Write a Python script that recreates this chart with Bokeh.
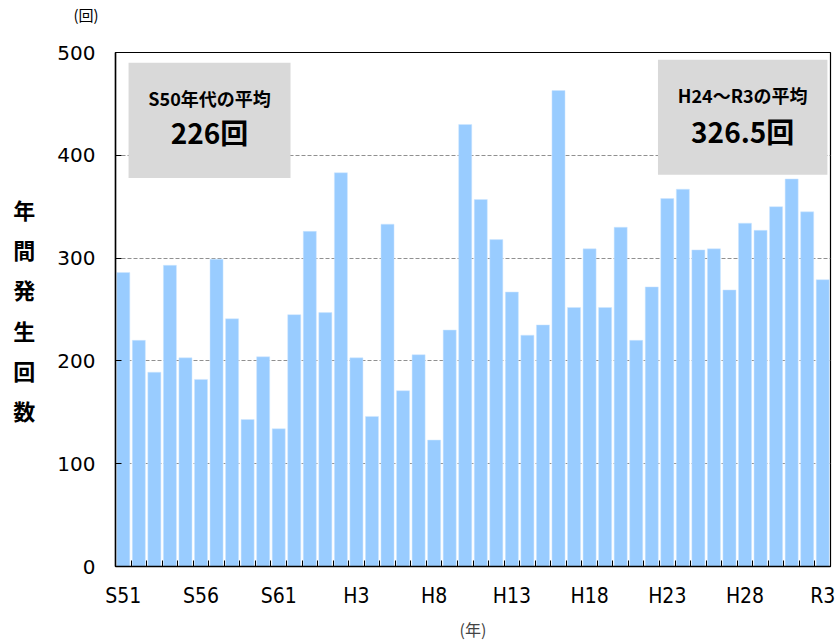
from bokeh.plotting import figure
from bokeh.models import FixedTicker, Label, BoxAnnotation, ColumnDataSource, Range1d, Title
from bokeh.embed import file_html
from bokeh.resources import INLINE

years = ["S51","S52","S53","S54","S55","S56","S57","S58","S59","S60","S61","S62","S63",
         "H1","H2","H3","H4","H5","H6","H7","H8","H9","H10","H11","H12","H13","H14","H15",
         "H16","H17","H18","H19","H20","H21","H22","H23","H24","H25","H26","H27","H28",
         "H29","H30","R1","R2","R3"]
counts = [286,220,189,293,203,182,299,241,143,204,134,245,326,
          247,383,203,146,333,171,206,123,230,430,357,318,267,225,235,
          463,252,309,252,330,220,272,358,367,308,309,269,334,
          327,350,377,345,279]
label_every = ["S51","S56","S61","H3","H8","H13","H18","H23","H28","R3"]
box1_title, box1_value = "S50年代の平均", "226回"
box2_title, box2_value = "H24～R3の平均", "326.5回"
y_title = "年間発生回数"
y_unit = "(回)"
x_unit = "(年)"

idx = list(range(len(years)))
src = ColumnDataSource(dict(x=idx, y=counts, name=years))

p = figure(width=836, height=643, output_backend="svg", toolbar_location=None,
           x_range=Range1d(-0.5, len(years) - 0.5), y_range=Range1d(0, 500),
           min_border_left=115, min_border_right=6, min_border_top=51, min_border_bottom=77)

p.vbar(x="x", top="y", width=0.84, source=src, fill_color="#99CCFF", line_color="#CFE6FF", line_width=0.5)

p.outline_line_color = "black"
p.outline_line_width = 1.2
p.outline_line_alpha = 1
p.background_fill_color = "white"

p.xgrid.grid_line_color = None
p.ygrid.grid_line_color = "#909090"
p.ygrid.grid_line_dash = "4 2"
p.ygrid.grid_line_width = 1

major = [years.index(l) for l in label_every]
p.xaxis.ticker = FixedTicker(ticks=major, minor_ticks=[i - 0.5 for i in range(len(years) + 1)])
p.xaxis.major_label_overrides = {i: years[i] for i in major}
p.xaxis.major_tick_in = 0
p.xaxis.major_tick_out = 0
p.xaxis.minor_tick_in = 6
p.xaxis.minor_tick_out = 0
p.xaxis.minor_tick_line_color = "black"
p.xaxis.axis_line_color = "black"
p.xaxis.axis_line_width = 1.5
p.xaxis.major_label_text_font = "'DejaVu Sans Condensed', 'Liberation Sans', sans-serif"
p.xaxis.major_label_text_font_size = "21px"
p.xaxis.major_label_text_color = "black"
p.xaxis.major_label_standoff = 17
p.xaxis.axis_label = x_unit
p.xaxis.axis_label_text_font = "Noto Sans CJK JP"
p.xaxis.axis_label_text_font_style = "normal"
p.xaxis.axis_label_text_font_size = "16px"
p.xaxis.axis_label_standoff = 6

p.yaxis.ticker = FixedTicker(ticks=[0, 100, 200, 300, 400, 500], minor_ticks=[])
p.yaxis.major_tick_in = 6
p.yaxis.major_tick_out = 0
p.yaxis.major_tick_line_color = "black"
p.yaxis.axis_line_color = "black"
p.yaxis.axis_line_width = 1.5
p.yaxis.major_label_text_font = "DejaVu Sans"
p.yaxis.major_label_text_font_size = "20px"
p.yaxis.major_label_text_color = "black"
p.yaxis.major_label_standoff = 20
p.yaxis.axis_label = "\n".join(y_title)
p.yaxis.axis_label_orientation = "horizontal"
p.yaxis.axis_label_text_font = "Noto Sans CJK JP"
p.yaxis.axis_label_text_font_style = "bold"
p.yaxis.axis_label_text_font_size = "22px"
p.yaxis.axis_label_text_line_height = 1.26
p.yaxis.axis_label_text_color = "black"
p.yaxis.axis_label_standoff = 19

p.add_layout(Title(text=y_unit + "\n\u3000", align="left", offset=-42, standoff=4,
                   text_font="Noto Sans CJK JP", text_font_style="normal",
                   text_font_size="15px", text_line_height=1.2, text_color="black"), "above")

# annotation boxes
p.add_layout(BoxAnnotation(left=0.34, right=10.76, bottom=378, top=490,
                           fill_color="#D9D9D9", fill_alpha=1, line_color=None))
p.add_layout(BoxAnnotation(left=34.4, right=45.3, bottom=381, top=493,
                           fill_color="#D9D9D9", fill_alpha=1, line_color=None))
p.add_layout(Label(x=5.55, y=456, text=box1_title, text_font="Noto Sans CJK JP",
                   text_font_style="bold", text_font_size="18px", text_align="center",
                   text_baseline="middle", text_color="black"))
p.add_layout(Label(x=5.55, y=423, text=box1_value, text_font="Noto Sans CJK JP",
                   text_font_style="bold", text_font_size="28px", text_align="center",
                   text_baseline="middle", text_color="black"))
p.add_layout(Label(x=39.85, y=459, text=box2_title, text_font="Noto Sans CJK JP",
                   text_font_style="bold", text_font_size="18px", text_align="center",
                   text_baseline="middle", text_color="black"))
p.add_layout(Label(x=39.85, y=424, text=box2_value, text_font="Noto Sans CJK JP",
                   text_font_style="bold", text_font_size="28px", text_align="center",
                   text_baseline="middle", text_color="black"))

open("out.html", "w").write(file_html(p, INLINE))
